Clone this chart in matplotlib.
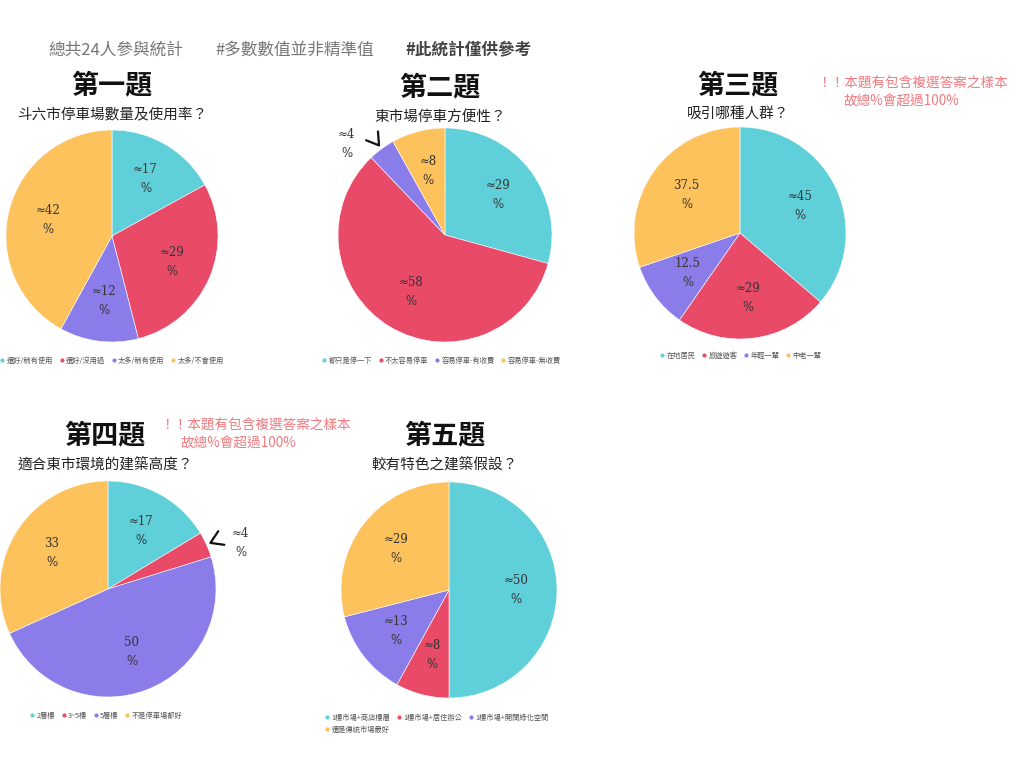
import numpy as np
import matplotlib
matplotlib.use("Agg")
import matplotlib.pyplot as plt
from matplotlib.lines import Line2D

plt.rcParams['font.family'] = ['Noto Sans CJK TC', 'DejaVu Sans']

W, H = 1024, 769
colors = ['#5fd0da', '#e94a68', '#8b7de9', '#fdc25c']

# data
titles = ['第一題', '第二題', '第三題', '第四題', '第五題']
questions = ['斗六市停車場數量及使用率？', '東市場停車方便性？', '吸引哪種人群？',
             '適合東市環境的建築高度？', '較有特色之建築假設？']
legend_q1 = ['還好/稍有使用', '還好/沒用過', '太多/稍有使用', '太多/不會使用']
legend_q2 = ['都只是停一下', '不太容易停車', '容易停車-有收費', '容易停車-無收費']
legend_q3 = ['在地居民', '旅遊遊客', '年輕一輩', '中老一輩']
legend_q4 = ['2層樓', '3~5樓', '5層樓', '不是停車場都好']
legend_q5 = ['1樓市場+商店樓層', '1樓市場+居住辦公', '1樓市場+開闊綠化空間', '還是傳統市場最好']
values_q1 = [17, 29, 12, 42]
values_q2 = [29, 58, 4, 8]
values_q3 = [45, 29, 12.5, 37.5]
values_q4 = [17, 4, 50, 33]
values_q5 = [50, 8, 13, 29]
labels_q1 = ['≈17', '≈29', '≈12', '≈42']
labels_q2 = ['≈29', '≈58', '≈4', '≈8']
labels_q3 = ['≈45', '≈29', '12.5', '37.5']
labels_q4 = ['≈17', '≈4', '50', '33']
labels_q5 = ['≈50', '≈8', '≈13', '≈29']

header = ['總共24人參與統計', '#多數數值並非精準值', '#此統計僅供參考']
note = ['！！本題有包含複選答案之樣本', '故總%會超過100%']

fig = plt.figure(figsize=(W / 100, H / 100), dpi=100)
fig.patch.set_facecolor('white')


def fx(x):
    return x / W


def fy(y):
    return 1 - y / H


def draw_pie(cx, cy, r, vals, labs, outside=(), out_dist=1.27, out_shift=0, lab_dist=0.62):
    ax = fig.add_axes([fx(cx - r), fy(cy + r), 2 * r / W, 2 * r / H])
    wedges, _ = ax.pie(vals, colors=colors, startangle=90, counterclock=False,
                       radius=1, wedgeprops=dict(linewidth=0.4, edgecolor='white'))
    ax.set_xlim(-1, 1)
    ax.set_ylim(-1, 1)
    ax.set_aspect('equal')
    ax.axis('off')
    for i, (w, lab) in enumerate(zip(wedges, labs)):
        th = np.deg2rad((w.theta1 + w.theta2) / 2)
        if i in outside:
            tl = th + np.deg2rad(out_shift)
            ax.text(out_dist * np.cos(tl), out_dist * np.sin(tl), lab + '\n%', ha='center',
                    va='center', fontsize=8.5, family=['DejaVu Serif'], color='#333333',
                    linespacing=1.6, clip_on=False)
            u = np.array([np.cos(th), np.sin(th)])
            tip = 1.04 * u
            pts = []
            for s in (32, -32):
                a = np.deg2rad(s)
                rot = np.array([[np.cos(a), -np.sin(a)], [np.sin(a), np.cos(a)]])
                pts.append(tip + 0.13 * rot @ u)
            ax.plot([pts[0][0], tip[0], pts[1][0]], [pts[0][1], tip[1], pts[1][1]],
                    color='#111111', lw=1.6, clip_on=False, solid_capstyle='round')
        else:
            ax.text(lab_dist * np.cos(th), lab_dist * np.sin(th), lab + '\n%', ha='center',
                    va='center', fontsize=8.5, family=['DejaVu Serif'], color='#333333',
                    linespacing=1.6, clip_on=False)
    return ax


def titles_at(x, y, t, q):
    fig.text(fx(x), fy(y), t, ha='center', va='center', fontsize=19.5, fontweight='bold',
             color='#111111')
    fig.text(fx(x), fy(y + 30), q, ha='center', va='center', fontsize=10.5, color='#222222')


def legend_at(x, y, names, ncol=4, order=None):
    handles = [Line2D([], [], marker='o', ls='', color=c, markersize=2) for c in colors]
    if order is not None:
        handles = [handles[k] for k in order]
        names = [names[k] for k in order]
    fig.legend(handles, names, loc='upper left', bbox_to_anchor=(fx(x), fy(y)), ncol=ncol,
               fontsize=5.2, frameon=False, handlelength=0.6, handletextpad=0.3,
               columnspacing=0.9, labelcolor='#555555', borderaxespad=0, borderpad=0)


# header
fig.text(fx(48), fy(50), header[0], ha='left', va='center', fontsize=12, color='#777777')
fig.text(fx(215), fy(50), header[1], ha='left', va='center', fontsize=12, color='#777777')
fig.text(fx(405), fy(50), header[2], ha='left', va='center', fontsize=12, color='#444444',
         fontweight='bold')

# notes
for nx, ny, nx2 in [(817, 84, 843), (160, 426, 180)]:
    fig.text(fx(nx), fy(ny), note[0], ha='left', va='center', fontsize=9.8, color='#f07a80')
    fig.text(fx(nx2), fy(ny + 18), note[1], ha='left', va='center', fontsize=9.8,
             color='#f07a80')

titles_at(112, 85, titles[0], questions[0])
titles_at(440, 87, titles[1], questions[1])
titles_at(738, 85, titles[2], questions[2])
titles_at(105, 435, titles[3], questions[3])
titles_at(445, 435, titles[4], questions[4])

draw_pie(112, 236, 106, values_q1, labels_q1)
draw_pie(445, 235, 107, values_q2, labels_q2, outside=(2,), out_dist=1.25, out_shift=11)
draw_pie(740, 233, 106, values_q3, labels_q3)
draw_pie(108, 589, 108, values_q4, labels_q4, outside=(1,), out_dist=1.3, out_shift=-5)
draw_pie(449, 590, 108, values_q5, labels_q5)

legend_at(0, 357, legend_q1)
legend_at(322, 357, legend_q2)
legend_at(660, 352, legend_q3)
legend_at(30, 712, legend_q4)
legend_at(325, 714, legend_q5, ncol=3, order=[0, 3, 1, 2])

fig.savefig('out.png', dpi=100, facecolor='white')
